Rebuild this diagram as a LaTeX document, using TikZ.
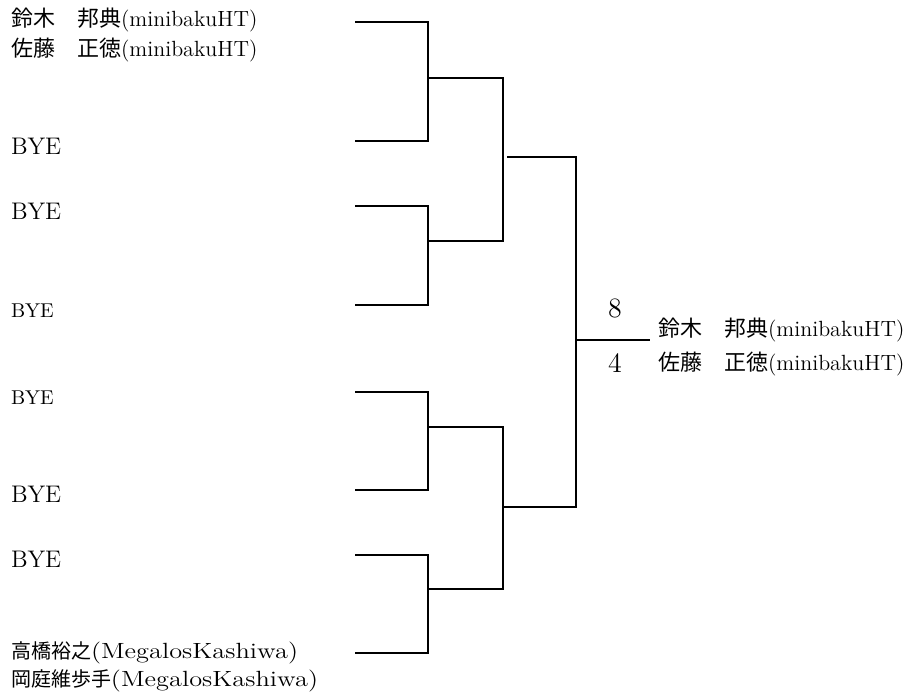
\documentclass[tikz,border=0pt]{standalone}
\usepackage{fontspec}
\newfontfamily\jp{Noto Sans CJK JP}
\usetikzlibrary{positioning}

\begin{document}
\begin{tikzpicture}[x=0.5pt,y=-0.5pt,line width=1pt,
	every node/.style={inner sep=0pt,anchor=base west},
	player/.style={font=\fontsize{11}{13}\selectfont},
	club/.style={font=\fontsize{10}{12}\selectfont},
	bye/.style={font=\fontsize{12}{14}\selectfont},
	smallbye/.style={font=\fontsize{10}{12}\selectfont},
	score/.style={anchor=base,font=\fontsize{14}{16}\selectfont}]
	\useasboundingbox (0,0) rectangle (910,693);
	% create the nodes
	\node (t1a)[player] at (10,26) {{\jp 鈴木　邦典}(minibakuHT)};
	\node (t1b)[player] at (10,56) {{\jp 佐藤　正徳}(minibakuHT)};
	\node (t2)[bye] at (10,154) {BYE};
	\node (t3)[bye] at (10,219) {BYE};
	\node (t4)[smallbye] at (10,317) {BYE};
	\node (t5)[smallbye] at (10,404) {BYE};
	\node (t6)[bye] at (10,502) {BYE};
	\node (t7)[bye] at (10,567) {BYE};
	\node (t8a)[club] at (10,658) {{\jp 高橋裕之}\fontsize{11}{13}\selectfont\scalebox{1.2}[1]{(MegalosKashiwa)}};
	\node (t8b)[club] at (10,686) {{\jp 岡庭維歩手}\fontsize{11}{13}\selectfont\scalebox{1.2}[1]{(MegalosKashiwa)}};
	\node (s1)[score] at (615,317) {8};
	\node (s2)[score] at (615,372) {4};
	\node (w1)[player] at (657,336) {{\jp 鈴木　邦典}(minibakuHT)};
	\node (w2)[player] at (657,370) {{\jp 佐藤　正徳}(minibakuHT)};

	% bracket points
	\coordinate (e1) at (355,22);
	\coordinate (e2) at (355,141);
	\coordinate (e3) at (355,206);
	\coordinate (e4) at (355,305);
	\coordinate (e5) at (355,392);
	\coordinate (e6) at (355,490);
	\coordinate (e7) at (355,555);
	\coordinate (e8) at (355,653);
	\coordinate (r1a) at (428,78);
	\coordinate (r1b) at (428,241);
	\coordinate (r1c) at (428,427);
	\coordinate (r1d) at (428,589);
	\coordinate (r2a) at (503,157);
	\coordinate (r2b) at (503,507);
	\coordinate (fin) at (576,340);
	\coordinate (champ) at (650,340);

	% connect the nodes
	\draw (e1) -| (r1a) |- (e2);
	\draw (e3) -| (r1b) |- (e4);
	\draw (e5) -| (r1c) |- (e6);
	\draw (e7) -| (r1d) |- (e8);
	\draw (r1a) -| (r2a) |- (r1b);
	\draw (r1c) -| (r2b) |- (r1d);
	\draw[shorten <=2pt] (r2a) -| (fin) |- (r2b);
	\draw (fin) -- (champ);
\end{tikzpicture}
\end{document}
